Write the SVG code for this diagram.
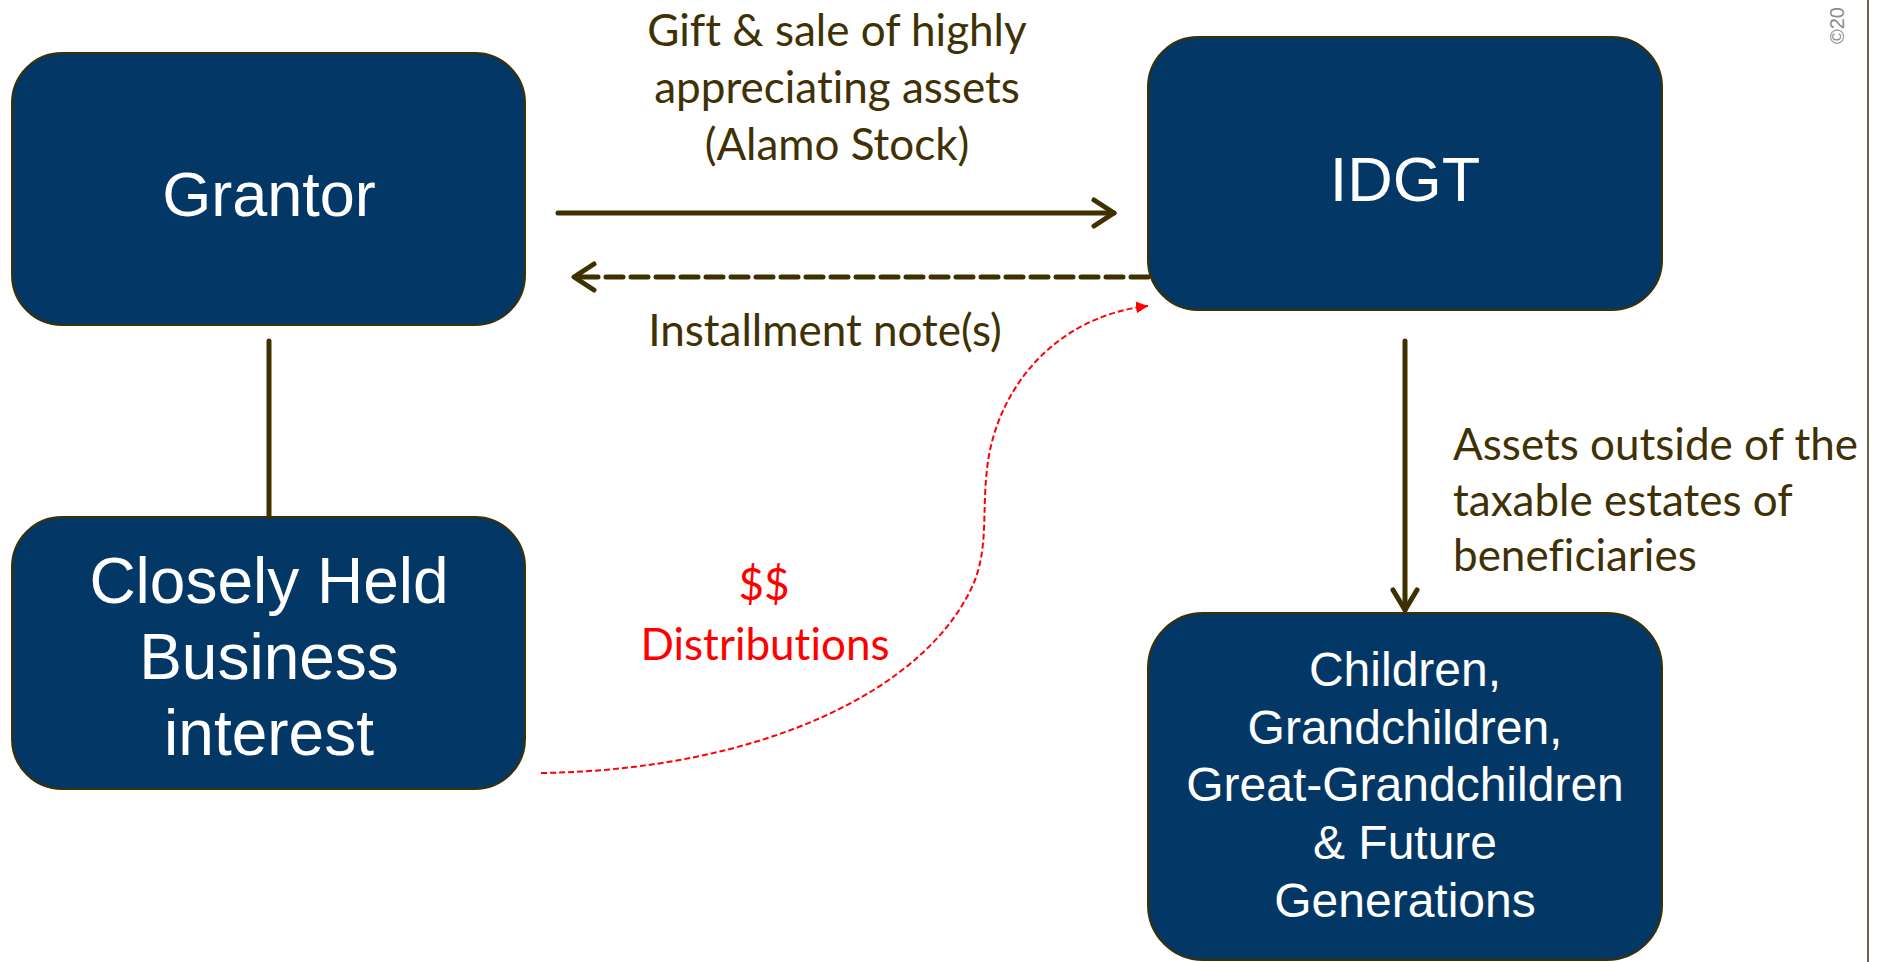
<svg xmlns="http://www.w3.org/2000/svg" width="1881" height="962" viewBox="0 0 1881 962">
<style>
.box{fill:#033866;stroke:#3F3000;stroke-width:2}
.nt{fill:#ffffff;font-family:"Liberation Sans",Arial,sans-serif;text-anchor:middle}
.lbl{fill:#3F3104;font-family:Lato,"Open Sans",sans-serif;font-size:44px;font-variant-ligatures:none;font-feature-settings:"liga" 0,"dlig" 0}
.red{fill:#FF0000;font-family:Lato,"Open Sans",sans-serif;font-size:44px;text-anchor:middle;font-variant-ligatures:none;font-feature-settings:"liga" 0,"dlig" 0}
.con{fill:none;stroke:#3F3000;stroke-width:5;stroke-linecap:round;stroke-linejoin:round}
</style>
<defs>
<marker id="redtri" markerWidth="12" markerHeight="12" refX="10" refY="5" orient="auto" markerUnits="userSpaceOnUse" viewBox="0 0 10 10">
<path d="M0,0 L10,5 L0,10 z" fill="#FF0000"/>
</marker>
</defs>
<rect width="1881" height="962" fill="#ffffff"/>
<line x1="1868" y1="0" x2="1868" y2="962" stroke="#3F3000" stroke-width="1.5"/>
<text transform="translate(1844,44) rotate(-90)" font-family="'Liberation Sans',Arial,sans-serif" font-size="20" fill="#8C8C8C">©20</text>

<g id="grantor">
<rect class="box" x="12" y="53" width="513" height="272" rx="50"/>
<text class="nt" x="269" y="216" font-size="63">Grantor</text>
</g>
<g id="idgt">
<rect class="box" x="1148" y="37" width="514" height="273" rx="50"/>
<text class="nt" x="1405" y="201" font-size="63">IDGT</text>
</g>
<g id="business">
<rect class="box" x="12" y="517" width="513" height="272" rx="50"/>
<text class="nt" font-size="64"><tspan x="269" y="603">Closely Held</tspan><tspan x="269" y="679">Business</tspan><tspan x="269" y="755">interest</tspan></text>
</g>
<g id="children">
<rect class="box" x="1148" y="613" width="514" height="347" rx="55"/>
<text class="nt" font-size="48"><tspan x="1405" y="686">Children,</tspan><tspan x="1405" y="744">Grandchildren,</tspan><tspan x="1405" y="801">Great-Grandchildren</tspan><tspan x="1405" y="859">&amp; Future</tspan><tspan x="1405" y="917">Generations</tspan></text>
</g>

<g id="connectors">
<line class="con" x1="269" y1="341" x2="269" y2="517" stroke-linecap="butt"/>
<line class="con" x1="558" y1="213" x2="1114" y2="213"/>
<polyline class="con" points="1094,200 1114,213 1094,226"/>
<line class="con" x1="1148" y1="277" x2="578" y2="277" stroke-dasharray="17 8" stroke-linecap="butt"/>
<polyline class="con" points="594,264 574,277 594,290"/>
<line class="con" x1="1405" y1="341" x2="1405" y2="610"/>
<polyline class="con" points="1393,590 1405,610 1417,590"/>
<path d="M541,773 C760,770 930,690 975,580 C990,540 980,500 990,450 C1005,380 1060,316 1148,306" fill="none" stroke="#FF0000" stroke-width="2" stroke-dasharray="6 3" marker-end="url(#redtri)"/>
</g>

<g id="labels">
<text class="lbl" text-anchor="middle"><tspan x="837" y="46">Gift &amp; sale of highly</tspan><tspan x="837" y="103">appreciating assets</tspan><tspan x="837" y="160">(Alamo Stock)</tspan></text>
<text class="lbl" text-anchor="middle" x="825" y="346">Installment note(s)</text>
<text class="lbl"><tspan x="1453" y="460">Assets outside of the</tspan><tspan x="1453" y="516">taxable estates of</tspan><tspan x="1453" y="571">beneficiaries</tspan></text>
<text class="red"><tspan x="764" y="600">$$</tspan><tspan x="765" y="660">Distributions</tspan></text>
</g>
</svg>
